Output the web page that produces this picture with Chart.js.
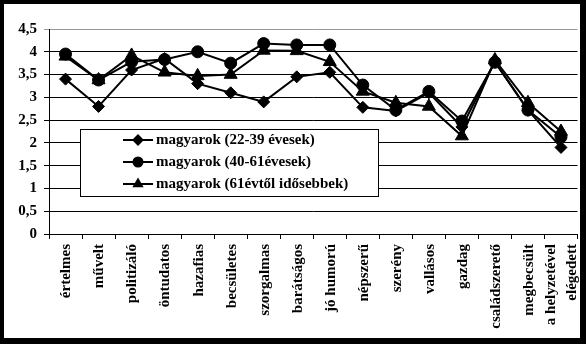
<!DOCTYPE html>
<html>
<head>
<meta charset="utf-8">
<script src="https://cdn.jsdelivr.net/npm/chart.js@4"></script>
<style>
html,body{margin:0;padding:0;background:#000;}
#wrap{position:absolute;left:0;top:0;width:586px;height:344px;}
</style>
</head>
<body>
<div id="wrap"><canvas id="c" width="586" height="344"></canvas></div>
<script>
const categories = ['értelmes','művelt','politizáló','öntudatos','hazafias','becsületes','szorgalmas','barátságos','jó humorú','népszerű','szerény','vallásos','gazdag','családszerető','megbecsült',['a helyzetével','elégedett']];
const seriesNames = ['magyarok (22-39 évesek)','magyarok (40-61évesek)','magyarok (61évtől idősebbek)'];
const young = [3.4, 2.8, 3.6, 3.85, 3.3, 3.1, 2.9, 3.45, 3.55, 2.78, 2.7, 3.1, 2.35, 3.78, 2.72, 1.9];
const middle = [3.95, 3.38, 3.78, 3.83, 4.0, 3.75, 4.18, 4.15, 4.15, 3.27, 2.72, 3.13, 2.48, 3.77, 2.72, 2.13];
const old = [3.9, 3.38, 3.92, 3.55, 3.47, 3.5, 4.03, 4.02, 3.78, 3.13, 2.88, 2.8, 2.15, 3.82, 2.88, 2.25];
const yTicks = [0, 0.5, 1, 1.5, 2, 2.5, 3, 3.5, 4, 4.5];

const FONT = '"Liberation Serif", "Times New Roman", serif';

const framePlugin = {
  id: 'frame',
  beforeDraw(chart) {
    const ctx = chart.ctx;
    ctx.save();
    ctx.fillStyle = '#000';
    ctx.fillRect(0, 0, chart.width, chart.height);
    ctx.fillStyle = '#fff';
    ctx.fillRect(4, 4, chart.width - 10, chart.height - 10);
    ctx.restore();
  }
};

const xLabelPlugin = {
  id: 'xLabels',
  afterDraw(chart) {
    const ctx = chart.ctx;
    const xs = chart.scales.x;
    const top = chart.chartArea.bottom + 10;
    ctx.save();
    ctx.fillStyle = '#000';
    ctx.font = 'bold 15px ' + FONT;
    ctx.textAlign = 'right';
    ctx.textBaseline = 'middle';
    categories.forEach((lab, i) => {
      const lines = Array.isArray(lab) ? lab : [lab];
      const x = xs.getPixelForValue(i);
      lines.forEach((ln, j) => {
        const off = (j - (lines.length - 1) / 2) * 21;
        ctx.save();
        ctx.translate(x + off + 1, top);
        ctx.rotate(-Math.PI / 2);
        ctx.fillText(ln, 0, 0);
        ctx.restore();
      });
    });
    ctx.restore();
  }
};

const legendPlugin = {
  id: 'boxLegend',
  afterDraw(chart) {
    const ctx = chart.ctx;
    const ca = chart.chartArea;
    const bx = ca.left + 31, by = ca.top + 100, bw = 298, bh = 67;
    ctx.save();
    ctx.fillStyle = '#fff';
    ctx.fillRect(bx, by, bw, bh);
    ctx.strokeStyle = '#000';
    ctx.lineWidth = 1;
    ctx.strokeRect(bx + 0.5, by + 0.5, bw, bh);
    chart.data.datasets.forEach((ds, i) => {
      const cy = by + 11 + i * 22;
      ctx.strokeStyle = '#000';
      ctx.lineWidth = 2;
      ctx.beginPath();
      ctx.moveTo(bx + 43, cy);
      ctx.lineTo(bx + 73, cy);
      ctx.stroke();
      ctx.fillStyle = '#000';
      Chart.helpers.drawPoint(ctx, {pointStyle: ds.pointStyle, radius: 4.5, borderWidth: 1}, bx + 58, cy);
      ctx.fillStyle = '#000';
      ctx.font = 'bold 15px ' + FONT;
      ctx.textAlign = 'left';
      ctx.textBaseline = 'middle';
      ctx.fillText(ds.label, bx + 76, cy);
    });
    ctx.restore();
  }
};

const mk = (label, data, style, radius, order) => ({
  label, data,
  borderColor: '#000', backgroundColor: '#000',
  borderWidth: 2,
  pointStyle: style, pointRadius: radius,
  pointBackgroundColor: '#000', pointBorderColor: '#000', pointBorderWidth: 1,
  tension: 0, fill: false, order
});

new Chart(document.getElementById('c'), {
  type: 'line',
  data: {
    labels: categories.map(c => Array.isArray(c) ? c.join(' ') : c),
    datasets: [
      mk(seriesNames[0], young, 'rectRot', 6, 3),
      mk(seriesNames[1], middle, 'circle', 6, 2),
      mk(seriesNames[2], old, 'triangle', 7.5, 1)
    ]
  },
  options: {
    responsive: false,
    animation: false,
    devicePixelRatio: 1,
    layout: { padding: { top: 29, right: 6, left: 0, bottom: 0 } },
    plugins: { legend: { display: false }, tooltip: { enabled: false } },
    scales: {
      x: {
        type: 'category',
        offset: true,
        grid: { display: true, drawOnChartArea: false, drawTicks: true, tickLength: 5, offset: true, color: '#000' },
        border: { color: '#000', width: 1 },
        ticks: { display: false },
        afterFit(s) { s.height = 110; }
      },
      y: {
        min: 0, max: 4.5,
        afterBuildTicks(s) { s.ticks = yTicks.map(v => ({ value: v })); },
        grid: {
          color: c => (c.tick && c.tick.value === 4.5) ? '#999' : '#000',
          tickLength: 5, drawTicks: true
        },
        border: { color: '#000', width: 1 },
        ticks: {
          color: '#000',
          padding: 7,
          font: { family: FONT, size: 15, weight: 'bold' },
          callback: v => String(v).replace('.', ',')
        },
        afterFit(s) { s.width = 49; }
      }
    }
  },
  plugins: [framePlugin, xLabelPlugin, legendPlugin]
});
</script>
</body>
</html>
